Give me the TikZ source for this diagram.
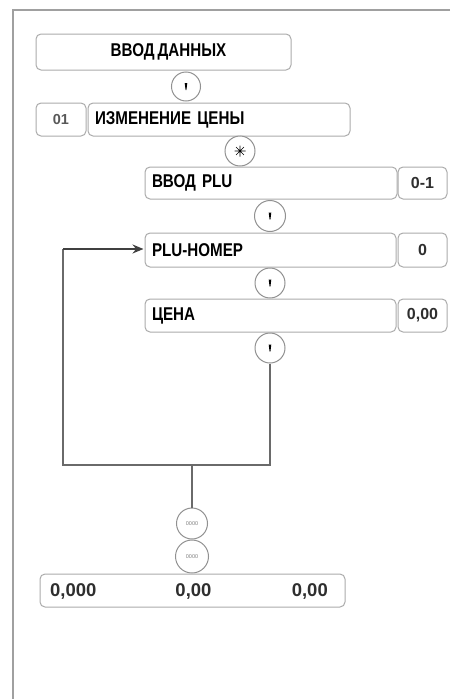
\documentclass[tikz,border=0pt]{standalone}
\usepackage{fontspec}
\usetikzlibrary{arrows.meta}
\newfontfamily\lab{Liberation Sans}[FakeStretch=0.82,WordSpace=0.7]
\newfontfamily\numf{Liberation Sans}
\definecolor{boxgray}{HTML}{ABABAB}
\definecolor{linegray}{HTML}{6A6A6A}
\definecolor{framegray}{HTML}{A0A0A0}
\definecolor{numgray}{HTML}{2E2E2E}
\newcommand\keytick{\tikz[baseline=-0.6ex]\fill[black] (-1.3pt,3.4pt) -- (1.3pt,3.4pt) -- (0.4pt,-3.6pt) -- (-0.4pt,-3.6pt) -- cycle;}
\newcommand\keystar{\tikz[baseline=-0.6ex]\draw[black,line width=0.7pt] (-5.5pt,0pt)--(5.5pt,0pt) (0pt,-5.5pt)--(0pt,5.5pt) (-3.9pt,-3.9pt)--(3.9pt,3.9pt) (-3.9pt,3.9pt)--(3.9pt,-3.9pt);}
\begin{document}
\begin{tikzpicture}[x=1pt,y=-1pt,
  box/.style={draw=boxgray, line width=1pt, rounded corners=5pt, inner sep=0pt, font=\lab\bfseries\fontsize{18.5}{19}\selectfont},
  lbox/.style={box, align=left, inner xsep=7pt},
  numbox/.style={box, font=\numf\bfseries\fontsize{16}{17}\selectfont, text=numgray},
  key/.style={circle, draw=boxgray!85!black, line width=1pt, fill=white, inner sep=0pt, minimum size=29pt},
  conn/.style={draw=linegray, line width=1.6pt},
  frame/.style={draw=framegray, line width=2pt},
  resnum/.style={font=\numf\bfseries\fontsize{18.5}{19}\selectfont, text=numgray, inner sep=0pt}
]
\useasboundingbox (0,0) rectangle (450,699);
\draw[frame] (450,10) -- (13,10) -- (13,699);

% boxes
\node[box, minimum width=255pt, minimum height=36pt] (b1) at (163.5,52) {\hspace*{10pt}ВВОД ДАННЫХ};
\node[key] (c1) at (186,86.5) {\keytick};

\node[numbox, minimum width=50pt, minimum height=33pt, font=\numf\bfseries\fontsize{14.5}{15}\selectfont, text=numgray!80] (n01) at (61,119.5) {01};
\node[lbox, minimum width=262pt, minimum height=33pt, text width=248pt] (b2) at (219,119.5) {ИЗМЕНЕНИЕ ЦЕНЫ};
\node[key, minimum size=30pt] (c2) at (240,151) {\keystar};

\node[lbox, minimum width=252pt, minimum height=32pt, text width=238pt] (b3) at (271,183) {ВВОД PLU};
\node[numbox, minimum width=49pt, minimum height=32pt] (v3) at (422.5,183) {0-1};
\node[key, minimum size=31pt] (c3) at (270,216) {\keytick};

\node[lbox, minimum width=251pt, minimum height=34pt, text width=237pt] (b4) at (270.5,250) {PLU-НОМЕР};
\node[numbox, minimum width=49pt, minimum height=34pt] (v4) at (422.5,250) {0};
\node[key, minimum size=30pt] (c4) at (270,283) {\keytick};

\node[lbox, minimum width=251pt, minimum height=33pt, text width=237pt] (b5) at (270.5,315.5) {ЦЕНА};
\node[numbox, minimum width=49pt, minimum height=33pt] (v5) at (422.5,315.5) {0,00};
\node[key, minimum size=30pt] (c5) at (270,348) {\keytick};

% loop
\coordinate (lbr) at (270,465);
\coordinate (lbl) at (63,465);
\coordinate (ltl) at (63,249);
\coordinate (lj) at (192,465);
\draw[conn] (c5.south) -- (lbr) -- (lbl) -- (ltl);
\draw[conn, draw=black!75, -{Stealth[length=11pt,width=9pt]}] (ltl) -- ([xshift=-1pt]b4.west |- ltl);

% bottom keys
\node[key, minimum size=31pt] (c6) at (192,523.5) {\numf\fontsize{5.5}{6}\selectfont\color{gray}0000};
\node[key, minimum size=33pt] (c7) at (192,556.5) {\numf\fontsize{5.5}{6}\selectfont\color{gray}0000};
\draw[conn] (lj) -- (c6.north);

% result box
\node[box, minimum width=305pt, minimum height=33pt] (b6) at (192.5,590.5) {};
\node[resnum, anchor=west] (r1) at (50,591) {0,000};
\node[resnum] (r2) at (193.5,591) {0,00};
\node[resnum, anchor=east] (r3) at (328,591) {0,00};
\end{tikzpicture}
\end{document}
